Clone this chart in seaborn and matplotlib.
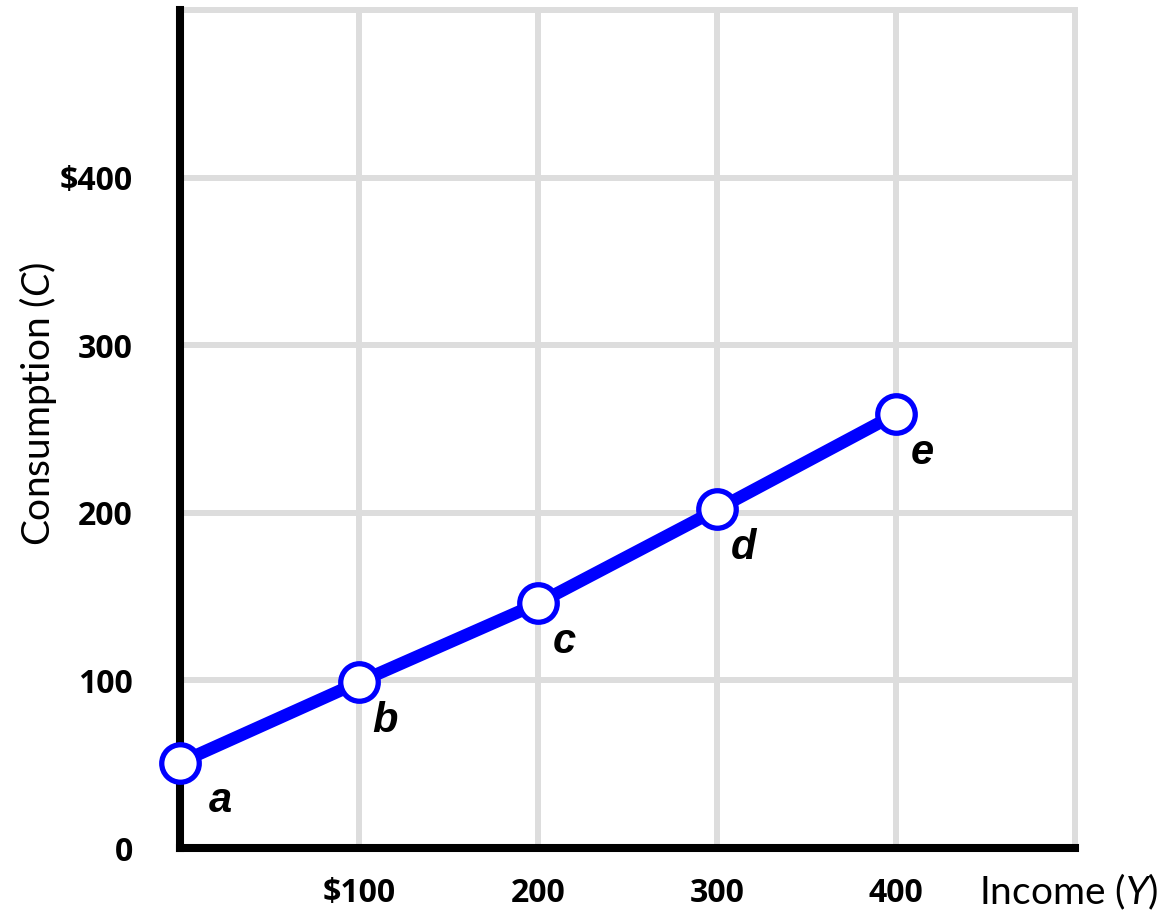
import matplotlib
matplotlib.use("Agg")
import matplotlib.pyplot as plt
import seaborn as sns
import pandas as pd

# Consumption schedule: income (Y) against consumption (C)
points = ["a", "b", "c", "d", "e"]
income = [0, 100, 200, 300, 400]
consumption = [51, 99, 146, 202, 259]

x_ticks = [100, 200, 300, 400]
x_tick_labels = ["$100", "200", "300", "400"]
y_ticks = [0, 100, 200, 300, 400]
y_tick_labels = ["0", "100", "200", "300", "$400"]

sns.set_theme(style="white")
plt.rcParams["font.family"] = ["Lato", "DejaVu Sans"]
plt.rcParams["mathtext.fontset"] = "custom"
plt.rcParams["mathtext.rm"] = "Lato"
plt.rcParams["mathtext.it"] = "Lato:italic"

df = pd.DataFrame({"point": points, "Y": income, "C": consumption})

fig = plt.figure(figsize=(11.75, 9.15), dpi=100)
ax = fig.add_axes([0.1532, 0.0732, 0.7617, 0.9158])

grid_col = "#dddddd"
blue = "#0000ff"

sns.lineplot(data=df, x="Y", y="C", ax=ax, color=blue, linewidth=9,
             marker="o", markersize=27, markerfacecolor="white",
             markeredgecolor=blue, markeredgewidth=3.8, clip_on=False,
             zorder=5)

for _, row in df.iterrows():
    dx = 29 if row["Y"] == 0 else 19
    ax.annotate(row["point"], (row["Y"], row["C"]), xytext=(dx, -28),
                textcoords="offset points", ha="center", va="center",
                fontsize=30, fontweight="bold", fontstyle="italic",
                family="Liberation Sans", color="black", zorder=6)

tick_font = dict(family="Open Sans", fontweight="bold", fontsize=23)

ax.set_xlim(0, 500)
ax.set_ylim(0, 500)
ax.set_xticks(x_ticks)
ax.set_xticklabels(x_tick_labels, **tick_font)
ax.set_yticks(y_ticks)
ax.set_yticklabels(y_tick_labels, **tick_font)
ax.tick_params(axis="both", length=0, colors="black")
ax.tick_params(axis="x", pad=21)
ax.tick_params(axis="y", pad=34)

ax.grid(True, color=grid_col, linewidth=4.3, zorder=0)
ax.set_axisbelow(True)

for side in ["top", "right"]:
    ax.spines[side].set_color(grid_col)
    ax.spines[side].set_linewidth(4.3)
for side in ["left", "bottom"]:
    ax.spines[side].set_color("black")
    ax.spines[side].set_linewidth(5.8)
    ax.spines[side].set_zorder(4)

ax.set_ylabel("Consumption ($\\mathit{C}$)", fontsize=28, color="black",
              va="center")
ax.yaxis.set_label_coords(-0.159, 0.53)
ax.set_xlabel("Income ($\\mathit{Y}$)", fontsize=28, color="black",
              va="center")
ax.xaxis.set_label_coords(0.993, -0.052)

fig.savefig("out.png", dpi=100, facecolor="white")
